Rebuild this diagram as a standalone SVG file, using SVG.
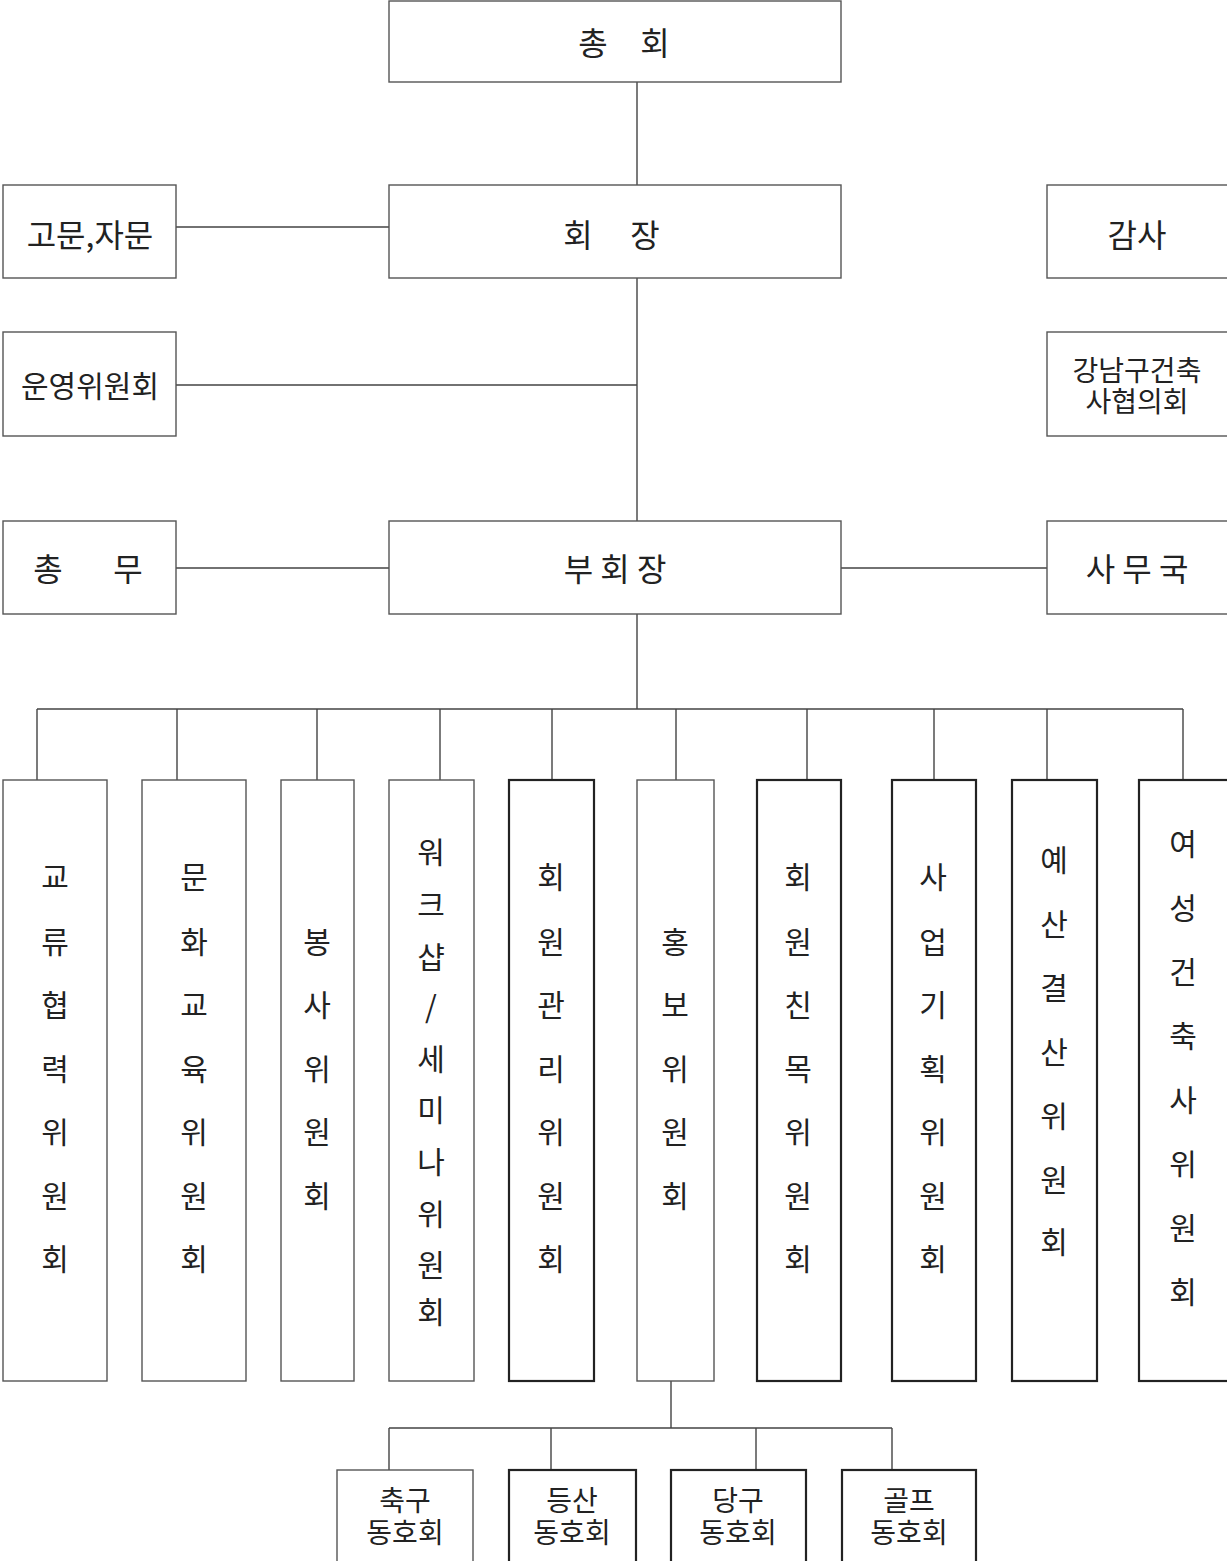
<svg xmlns="http://www.w3.org/2000/svg" width="1227" height="1561" viewBox="0 0 1227 1561">
<style>
.b{fill:#fff;stroke:#555;stroke-width:1.4}
.k{fill:#fff;stroke:#222;stroke-width:2.2}
.c{fill:none;stroke:#444;stroke-width:1.4}
text{font-family:"Noto Sans CJK KR","Noto Sans",sans-serif;fill:#222;text-anchor:middle;dominant-baseline:central;white-space:pre}
.t{font-size:32px}
.s{font-size:30px}
.m{font-size:28px}
.v{font-size:30px}
</style>
<rect width="1227" height="1561" fill="#fff"/>
<g id="connectors">
<path class="c" d="M637 82V185M176 227H389M176 385H637M637 278V521M176 568H389M841 568H1047M637 614V709M37 709H1183"/>
<path class="c" d="M37 709V780M177 709V780M317 709V780M440 709V780M552 709V780M676 709V780M807 709V780M934 709V780M1047 709V780M1183 709V780"/>
<path class="c" d="M671 1381V1428M389 1428H892M389 1428V1470M551 1428V1470M756 1428V1470M892 1428V1470"/>
</g>
<g id="n-chonghoe"><rect class="b" x="389" y="1" width="452" height="81"/><text class="t" y="41"><tspan x="593">총</tspan><tspan x="655"> </tspan><tspan x="655">회</tspan></text></g>
<g id="n-hoejang"><rect class="b" x="389" y="185" width="452" height="93"/><text class="t" y="233"><tspan x="578">회</tspan><tspan x="645"> </tspan><tspan x="645">장</tspan></text></g>
<g id="n-gomun"><rect class="b" x="3" y="185" width="173" height="93"/><text class="t" x="90" y="233">고문,자문</text></g>
<g id="n-gamsa"><rect class="b" x="1047" y="185" width="182" height="93"/><text class="t" x="1137" y="233">감사</text></g>
<g id="n-unyeong"><rect class="b" x="3" y="332" width="173" height="104"/><text class="s" x="90" y="384">운영위원회</text></g>
<g id="n-gangnam"><rect class="b" x="1047" y="332" width="182" height="104"/><text class="m" x="1137" y="369">강남구건축</text><text class="m" x="1137" y="400">사협의회</text></g>
<g id="n-chongmu"><rect class="b" x="3" y="521" width="173" height="93"/><text class="t" y="567"><tspan x="48">총</tspan><tspan x="128"> </tspan><tspan x="128">무</tspan></text></g>
<g id="n-buhoejang"><rect class="b" x="389" y="521" width="452" height="93"/><text class="t" x="615" y="567">부 회 장</text></g>
<g id="n-samuguk"><rect class="b" x="1047" y="521" width="182" height="93"/><text class="t" x="1137" y="567">사 무 국</text></g>

<g id="n-c1"><rect class="b" x="3" y="780" width="104" height="601"/>
<text class="v" x="55"><tspan x="55" y="875">교</tspan><tspan x="55" y="940">류</tspan><tspan x="55" y="1003">협</tspan><tspan x="55" y="1067">력</tspan><tspan x="55" y="1130">위</tspan><tspan x="55" y="1194">원</tspan><tspan x="55" y="1257">회</tspan></text></g>
<g id="n-c2"><rect class="b" x="142" y="780" width="104" height="601"/>
<text class="v" x="194"><tspan x="194" y="875">문</tspan><tspan x="194" y="940">화</tspan><tspan x="194" y="1003">교</tspan><tspan x="194" y="1067">육</tspan><tspan x="194" y="1130">위</tspan><tspan x="194" y="1194">원</tspan><tspan x="194" y="1257">회</tspan></text></g>
<g id="n-c3"><rect class="b" x="281" y="780" width="73" height="601"/>
<text class="v" x="317"><tspan x="317" y="940">봉</tspan><tspan x="317" y="1003">사</tspan><tspan x="317" y="1067">위</tspan><tspan x="317" y="1130">원</tspan><tspan x="317" y="1194">회</tspan></text></g>
<g id="n-c4"><rect class="b" x="389" y="780" width="85" height="601"/>
<text class="v" x="431"><tspan x="431" y="850">워</tspan><tspan x="431" y="903">크</tspan><tspan x="431" y="955">샵</tspan><tspan x="431" y="1005">/</tspan><tspan x="431" y="1057">세</tspan><tspan x="431" y="1108">미</tspan><tspan x="431" y="1160">나</tspan><tspan x="431" y="1212">위</tspan><tspan x="431" y="1263">원</tspan><tspan x="431" y="1310">회</tspan></text></g>
<g id="n-c5"><rect class="k" x="509" y="780" width="85" height="601"/>
<text class="v" x="551"><tspan x="551" y="875">회</tspan><tspan x="551" y="940">원</tspan><tspan x="551" y="1003">관</tspan><tspan x="551" y="1067">리</tspan><tspan x="551" y="1130">위</tspan><tspan x="551" y="1194">원</tspan><tspan x="551" y="1257">회</tspan></text></g>
<g id="n-c6"><rect class="b" x="637" y="780" width="77" height="601"/>
<text class="v" x="675"><tspan x="675" y="940">홍</tspan><tspan x="675" y="1003">보</tspan><tspan x="675" y="1067">위</tspan><tspan x="675" y="1130">원</tspan><tspan x="675" y="1194">회</tspan></text></g>
<g id="n-c7"><rect class="k" x="757" y="780" width="84" height="601"/>
<text class="v" x="798"><tspan x="798" y="875">회</tspan><tspan x="798" y="940">원</tspan><tspan x="798" y="1003">친</tspan><tspan x="798" y="1067">목</tspan><tspan x="798" y="1130">위</tspan><tspan x="798" y="1194">원</tspan><tspan x="798" y="1257">회</tspan></text></g>
<g id="n-c8"><rect class="k" x="892" y="780" width="84" height="601"/>
<text class="v" x="933"><tspan x="933" y="875">사</tspan><tspan x="933" y="940">업</tspan><tspan x="933" y="1003">기</tspan><tspan x="933" y="1067">획</tspan><tspan x="933" y="1130">위</tspan><tspan x="933" y="1194">원</tspan><tspan x="933" y="1257">회</tspan></text></g>
<g id="n-c9"><rect class="k" x="1012" y="780" width="85" height="601"/>
<text class="v" x="1054"><tspan x="1054" y="858">예</tspan><tspan x="1054" y="922">산</tspan><tspan x="1054" y="986">결</tspan><tspan x="1054" y="1050">산</tspan><tspan x="1054" y="1114">위</tspan><tspan x="1054" y="1178">원</tspan><tspan x="1054" y="1240">회</tspan></text></g>
<g id="n-c10"><rect class="k" x="1139" y="780" width="90" height="601"/>
<text class="v" x="1183"><tspan x="1183" y="842">여</tspan><tspan x="1183" y="906">성</tspan><tspan x="1183" y="970">건</tspan><tspan x="1183" y="1034">축</tspan><tspan x="1183" y="1098">사</tspan><tspan x="1183" y="1162">위</tspan><tspan x="1183" y="1226">원</tspan><tspan x="1183" y="1290">회</tspan></text></g>

<g id="n-soccer"><rect class="b" x="337" y="1470" width="136" height="93"/><text class="m" x="405" y="1499">축구</text><text class="m" x="405" y="1531">동호회</text></g>
<g id="n-hiking"><rect class="k" x="509" y="1470" width="127" height="93"/><text class="m" x="572" y="1499">등산</text><text class="m" x="572" y="1531">동호회</text></g>
<g id="n-billiards"><rect class="k" x="671" y="1470" width="135" height="93"/><text class="m" x="738" y="1499">당구</text><text class="m" x="738" y="1531">동호회</text></g>
<g id="n-golf"><rect class="k" x="842" y="1470" width="134" height="93"/><text class="m" x="909" y="1499">골프</text><text class="m" x="909" y="1531">동호회</text></g>
</svg>
